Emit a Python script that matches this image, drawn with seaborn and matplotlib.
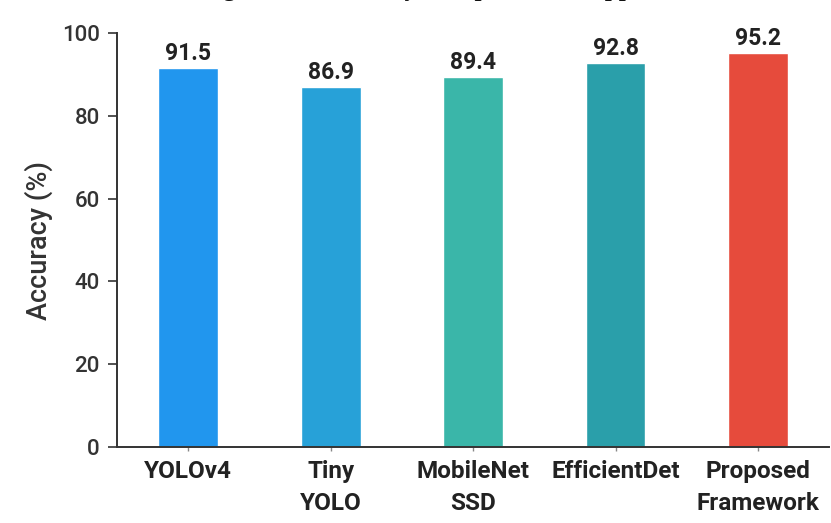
import matplotlib
matplotlib.use("Agg")
import matplotlib.pyplot as plt
import seaborn as sns
import pandas as pd

# Detection models and their accuracy (%)
models = ["YOLOv4", "Tiny\nYOLO", "MobileNet\nSSD", "EfficientDet", "Proposed\nFramework"]
accuracy = [91.5, 86.9, 89.4, 92.8, 95.2]
bar_colors = ["#2196EE", "#27A1D8", "#3AB6A9", "#2A9FAA", "#E64B3C"]
y_ticks = [0, 20, 40, 60, 80, 100]
title_text = "Figure 10: Accuracy Comparison of Approaches"

sns.set_theme(style="white")
plt.rcParams["font.family"] = ["Roboto", "DejaVu Sans"]

df = pd.DataFrame({"Model": models, "Accuracy": accuracy})

fig = plt.figure(figsize=(8.31, 5.23), dpi=100)
ax = fig.add_axes([0.1408, 0.1453, 0.857, 0.7916])

sns.barplot(data=df, x="Model", y="Accuracy", hue="Model", palette=bar_colors,
            width=0.42, legend=False, ax=ax, saturation=1)

for patch, val in zip(ax.patches, accuracy):
    ax.annotate(f"{val:.1f}", (patch.get_x() + patch.get_width() / 2, val),
                xytext=(0, 2), textcoords="offset points", ha="center", va="bottom",
                fontsize=16.5, fontweight="bold", color="#222222")

ax.set_ylim(0, 100)
ax.set_xlim(-0.5, 4.5)
ax.set_yticks(y_ticks)
ax.set_yticklabels([str(t) for t in y_ticks], fontsize=16, fontweight="medium", color="#333333")
ax.set_xticks(range(len(models)))
ax.set_xticklabels(models, fontsize=17.5, fontweight="bold", color="#222222", linespacing=1.55)
ax.set_xlabel("")
ax.set_ylabel("Accuracy (%)", fontsize=19.5, fontweight="medium", color="#333333", labelpad=6)

for side in ["top", "right"]:
    ax.spines[side].set_visible(False)
for side in ["left", "bottom"]:
    ax.spines[side].set_color("#333333")
    ax.spines[side].set_linewidth(1.4)
ax.tick_params(axis="y", direction="out", length=6.5, width=1.2, color="#333333", pad=6, left=True)
ax.tick_params(axis="x", direction="out", length=3, width=1.0, color="#888888", pad=6, bottom=True)

# Caption line sitting at the top edge of the canvas
fig.text(201 / 831, 1 + 4 / 523, title_text, ha="left", va="baseline",
         fontsize=18, fontweight="bold", family=["Liberation Serif", "DejaVu Serif"],
         color="#111111")

fig.savefig("out.png", dpi=100)
